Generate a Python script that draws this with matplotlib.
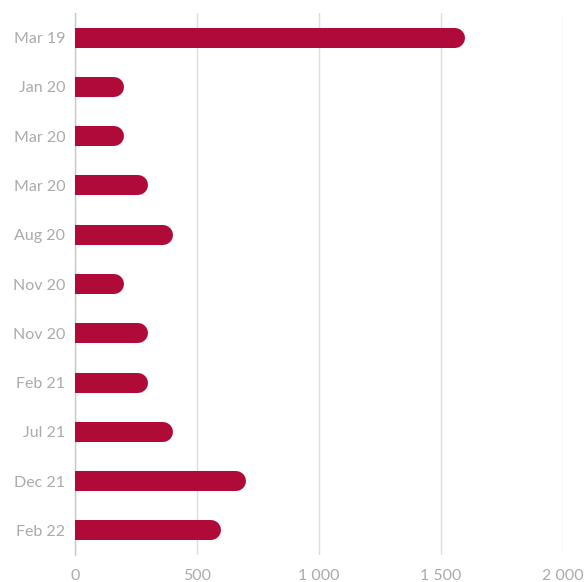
import matplotlib
matplotlib.use("Agg")
import matplotlib.pyplot as plt
from matplotlib.transforms import offset_copy
from matplotlib.ticker import FuncFormatter

categories = ["Mar 19", "Jan 20", "Mar 20", "Mar 20", "Aug 20", "Nov 20",
              "Nov 20", "Feb 21", "Jul 21", "Dec 21", "Feb 22"]
values = [1600, 200, 200, 300, 400, 200, 300, 300, 400, 700, 600]
x_ticks = [0, 500, 1000, 1500, 2000]

plt.rcParams['font.family'] = ['Lato', 'DejaVu Sans']

fig = plt.figure(figsize=(5.87, 5.82), dpi=100)
ax = fig.add_axes([75/587, (582-555)/582, 488/587, 542/582])

bar_px = 20
lw_pt = bar_px * 72 / 100
r_pt = lw_pt / 2
trans = offset_copy(ax.transData, fig=fig, x=-r_pt, y=0, units='points')

ypos = list(range(len(categories)))
for y, v in zip(ypos, values):
    ax.plot([0, v], [y, y], color="#b00a38", linewidth=lw_pt,
            solid_capstyle='round', transform=trans, zorder=3)

ax.set_xlim(0, 2000)
ax.set_ylim(len(categories) - 0.5, -0.5)
ax.set_yticks(ypos)
ax.set_yticklabels(categories)
ax.set_xticks(x_ticks)
ax.xaxis.set_major_formatter(FuncFormatter(lambda v, p: f"{int(v):,}".replace(",", " ")))

ax.grid(axis='x', color="#dedede", linewidth=1, zorder=0)
for s in ["top", "right", "bottom"]:
    ax.spines[s].set_visible(False)
ax.spines["left"].set_color("#c8c8c8")
ax.spines["left"].set_linewidth(1)
ax.tick_params(axis='both', length=0, colors="#ababab", labelsize=11.5)
ax.tick_params(axis='y', pad=7)
ax.tick_params(axis='x', pad=10)

fig.savefig("out.png", dpi=100)
